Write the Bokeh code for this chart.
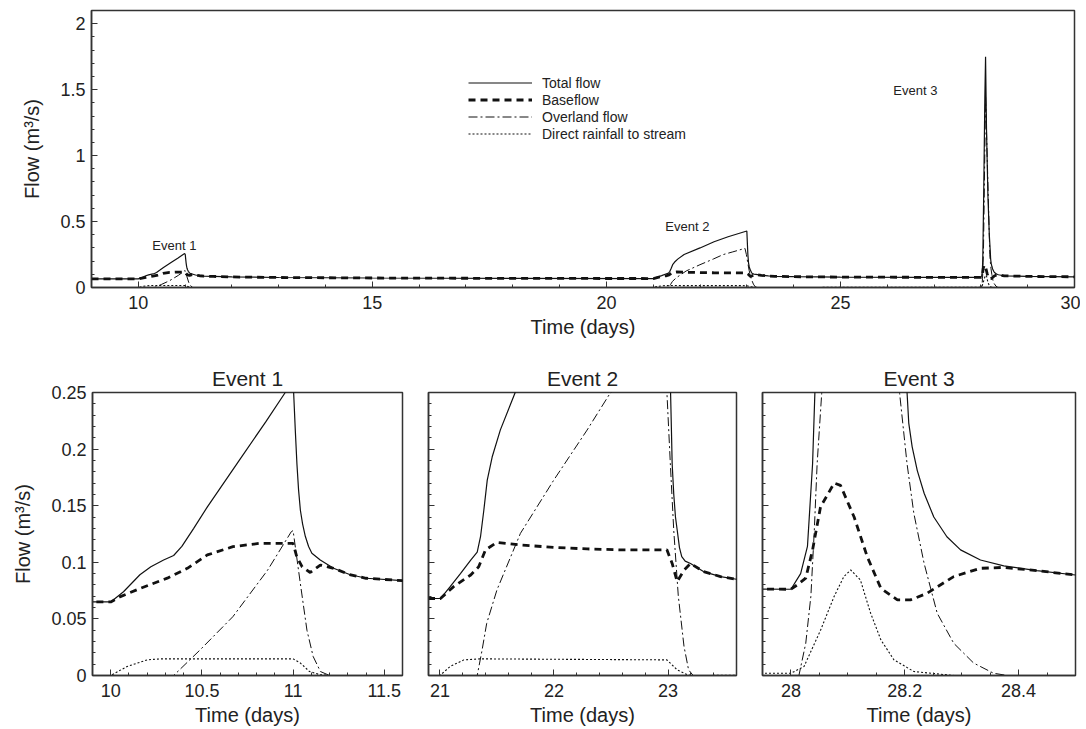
from bokeh.plotting import figure
from bokeh.layouts import column, row
from bokeh.models import (SingleIntervalTicker, CustomJSTickFormatter, Legend,
                          LegendItem, Label)
from bokeh.embed import file_html
from bokeh.resources import INLINE

FONT = "Liberation Sans"
INK = "#111111"
FRAME = "#333333"

# ---------------- data (time in days, flow in m3/s) ----------------
total_t = [9.0, 10.0, 10.07, 10.16, 10.22, 10.29, 10.345, 10.39, 10.455, 10.53,
           10.70, 10.85, 10.957, 10.99, 11.003, 11.012, 11.021, 11.03, 11.04,
           11.052, 11.067, 11.085, 11.103, 11.149, 11.222, 11.31, 11.40, 11.6,
           12.0, 13.0, 15.0, 18.0,
           21.005, 21.09, 21.18, 21.27, 21.327, 21.356, 21.385, 21.415, 21.458,
           21.53, 21.66, 22.0, 22.3, 22.6, 23.0, 23.022, 23.03, 23.036, 23.05,
           23.065, 23.08, 23.1, 23.12, 23.15, 23.197, 23.31, 23.46, 23.6, 24.0,
           25.0, 27.0,
           28.0, 28.017, 28.029, 28.038, 28.042, 28.06, 28.085, 28.1, 28.12,
           28.15, 28.18, 28.204, 28.207, 28.213, 28.222, 28.234, 28.251, 28.274,
           28.298, 28.333, 28.374, 28.432, 28.5, 29.0, 30.0]
total_q = [0.065, 0.065, 0.074, 0.089, 0.096, 0.102, 0.106, 0.114, 0.130, 0.149,
           0.189, 0.224, 0.250, 0.257, 0.250, 0.217, 0.187, 0.164, 0.146,
           0.134, 0.123, 0.114, 0.108, 0.102, 0.0947, 0.0892, 0.0859, 0.0838,
           0.080, 0.076, 0.072, 0.069,
           0.068, 0.0785, 0.090, 0.102, 0.109, 0.1226, 0.146, 0.1726, 0.193,
           0.217, 0.250, 0.300, 0.347, 0.385, 0.428, 0.250, 0.215, 0.187, 0.160,
           0.140, 0.1285, 0.113, 0.105, 0.101, 0.099, 0.0918, 0.0874, 0.085, 0.082,
           0.079, 0.077,
           0.0762, 0.090, 0.114, 0.187, 0.249, 0.70, 1.45, 1.75, 1.20,
           0.70, 0.40, 0.250, 0.223, 0.202, 0.181, 0.161, 0.140, 0.1226,
           0.111, 0.102, 0.0968, 0.0926, 0.0888, 0.084, 0.081]

base_t = [9.0, 10.0, 10.053, 10.163, 10.31, 10.42, 10.53, 10.67, 10.82, 11.0,
          11.02, 11.05, 11.094, 11.149, 11.222, 11.31, 11.40, 11.6, 12.0, 13.0,
          15.0, 18.0, 21.005, 21.12, 21.27, 21.34, 21.40, 21.50, 21.706, 21.998,
          22.29, 22.58, 22.99, 23.036, 23.08, 23.14, 23.197, 23.31, 23.46, 23.6,
          24.0, 25.0, 27.0, 28.0, 28.011, 28.026, 28.038, 28.052, 28.076,
          28.087, 28.111, 28.134, 28.158, 28.187, 28.21, 28.239, 28.286, 28.333,
          28.374, 28.432, 28.5, 29.0, 30.0]
base_q = [0.065, 0.065, 0.0697, 0.077, 0.086, 0.0947, 0.1065, 0.1138, 0.1168, 0.1168,
          0.105, 0.096, 0.091, 0.0976, 0.0947, 0.0892, 0.0859, 0.0838, 0.080, 0.076,
          0.072, 0.069, 0.068, 0.0785, 0.0888, 0.096, 0.111, 0.1176, 0.1153, 0.1132,
          0.1118, 0.111, 0.111, 0.099, 0.083, 0.093, 0.099, 0.0918, 0.0874, 0.085,
          0.082, 0.079, 0.077, 0.0762, 0.080, 0.086, 0.111, 0.149, 0.170,
          0.168, 0.140, 0.105, 0.077, 0.0668, 0.0668, 0.0726, 0.0874, 0.0947,
          0.0955, 0.0926, 0.0888, 0.084, 0.081]

overland_t = [9.0, 10.345, 10.49, 10.67, 10.86, 10.99, 11.0, 11.04, 11.076, 11.11,
              11.15, 11.2, 21.327, 21.37, 21.41, 21.50, 21.706, 21.998, 22.29,
              22.49, 22.7, 22.96, 22.99, 23.02, 23.05, 23.09, 23.14, 23.18, 23.22,
              28.014, 28.026, 28.035, 28.041, 28.046, 28.054, 28.1, 28.191, 28.204,
              28.216, 28.234, 28.257, 28.286, 28.321, 28.356, 28.38, 30.0]
overland_q = [0.0, 0.0, 0.0226, 0.052, 0.093, 0.127, 0.128, 0.081, 0.040, 0.0168,
              0.0035, 0.0, 0.0, 0.0226, 0.046, 0.0756, 0.1256, 0.1726, 0.2168,
              0.249, 0.270, 0.297, 0.250, 0.187, 0.128, 0.070, 0.0256, 0.005, 0.0,
              0.0, 0.0285, 0.070, 0.128, 0.187, 0.249, 1.45, 0.249, 0.187,
              0.143, 0.099, 0.055, 0.0285, 0.011, 0.002, 0.0, 0.0]

rain_t = [9.0, 10.0, 10.09, 10.2, 10.27, 11.0, 11.04, 11.09, 11.15, 11.22,
          21.0, 21.09, 21.21, 21.36, 22.99, 23.08, 23.17, 23.22,
          28.0, 28.023, 28.052, 28.076, 28.093, 28.105, 28.122, 28.14, 28.158,
          28.181, 28.216, 28.286, 30.0]
rain_q = [0.0, 0.0, 0.008, 0.0138, 0.0147, 0.0147, 0.011, 0.0035, 0.0006, 0.0,
          0.0, 0.008, 0.0138, 0.0147, 0.0138, 0.005, 0.0006, 0.0,
          0.002, 0.008, 0.040, 0.070, 0.0874, 0.0932, 0.0844, 0.055, 0.0315,
          0.0138, 0.0035, 0.0, 0.0]

series_names = ["Total flow", "Baseflow", "Overland flow", "Direct rainfall to stream"]
event_names = ["Event 1", "Event 2", "Event 3"]
# annotation anchors on the overview plot (days, m3/s)
event_label_t = [10.77, 21.73, 26.6]
event_label_q = [0.316, 0.466, 1.49]

# ---------------- helpers ----------------
num_fmt = CustomJSTickFormatter(code="return String(Math.round(tick*1000)/1000);")
blank_fmt = CustomJSTickFormatter(code="return '';")


def style_axes(p, xint, xminor, yint, yminor, ylabels=True):
    p.xgrid.visible = False
    p.ygrid.visible = False
    p.outline_line_color = FRAME
    p.outline_line_width = 1.5
    p.background_fill_color = "white"
    p.border_fill_color = "white"
    p.xaxis.ticker = SingleIntervalTicker(interval=xint, num_minor_ticks=xminor)
    p.yaxis.ticker = SingleIntervalTicker(interval=yint, num_minor_ticks=yminor)
    p.xaxis.formatter = num_fmt
    p.yaxis.formatter = num_fmt if ylabels else blank_fmt
    for ax in (p.xaxis[0], p.yaxis[0]):
        ax.axis_line_color = FRAME
        ax.axis_line_width = 1.5
        ax.major_tick_in = 6
        ax.major_tick_out = 0
        ax.minor_tick_in = 3
        ax.minor_tick_out = 0
        ax.major_tick_line_color = FRAME
        ax.minor_tick_line_color = FRAME
        ax.major_label_text_font = FONT
        ax.major_label_text_font_size = "18px"
        ax.major_label_text_color = "#222222"
        ax.axis_label_text_font = FONT
        ax.axis_label_text_font_size = "20px"
        ax.axis_label_text_font_style = "normal"
        ax.axis_label_text_color = "#222222"
    p.xaxis.major_label_standoff = 8
    p.xaxis.axis_label_standoff = 4
    p.yaxis.major_label_standoff = 6 if ylabels else 0
    p.yaxis.axis_label_standoff = 14


def draw(p):
    r1 = p.line(total_t, total_q, line_color=INK, line_width=1.2)
    r2 = p.line(base_t, base_q, line_color=INK, line_width=2.8, line_dash="7 5")
    r3 = p.line(overland_t, overland_q, line_color=INK, line_width=1.0,
                line_dash="9 3 2 3")
    r4 = p.line(rain_t, rain_q, line_color=INK, line_width=1.1, line_dash="2 2")
    return [r1, r2, r3, r4]


# ---------------- overview ----------------
top = figure(width=1080, height=347, x_range=(9, 30), y_range=(0, 2.1),
             output_backend="svg", toolbar_location=None,
             min_border_left=91, min_border_right=6, min_border_top=10,
             min_border_bottom=60)
style_axes(top, 5, 5, 0.5, 5)
top.xaxis.axis_label = "Time (days)"
top.yaxis.axis_label = "Flow (m³/s)"
rs = draw(top)
legend = Legend(items=[LegendItem(label=n, renderers=[r]) for n, r in zip(series_names, rs)],
                location=(377, 145), glyph_width=64, glyph_height=17,
                label_height=17, spacing=0, padding=0, margin=0,
                label_standoff=10, label_text_font=FONT,
                label_text_font_size="14px", label_text_color="#222222",
                border_line_color=None, background_fill_alpha=0)
top.add_layout(legend)
for name, lt, lq in zip(event_names, event_label_t, event_label_q):
    top.add_layout(Label(x=lt, y=lq, text=name, text_align="center",
                         text_baseline="middle", text_font=FONT,
                         text_font_size="13px", text_color="#222222"))

# ---------------- event panels ----------------
panel_specs = [
    # (title, x_range, x interval, minor count, width, border left, border right, y labels)
    ("Event 1", (9.9, 11.6), 0.5, 5, 415, 92, 13, True),
    ("Event 2", (20.9, 23.6), 1.0, 5, 334, 13, 13, False),
    ("Event 3", (27.95, 28.5), 0.2, 4, 331, 13, 5, False),
]
panels = []
for title, xr, xint, xminor, w, bl, br, ylab in panel_specs:
    p = figure(width=w, height=382, x_range=xr, y_range=(0, 0.25),
               output_backend="svg", toolbar_location=None, title=title,
               min_border_left=bl, min_border_right=br, min_border_top=45,
               min_border_bottom=54)
    style_axes(p, xint, xminor, 0.05, 5, ylabels=ylab)
    p.title.align = "center"
    p.title.text_font = FONT
    p.title.text_font_size = "21px"
    p.title.text_font_style = "normal"
    p.title.text_color = "#222222"
    p.title.standoff = 6
    p.xaxis.axis_label = "Time (days)"
    if ylab:
        p.yaxis.axis_label = "Flow (m³/s)"
    draw(p)
    panels.append(p)

layout = column(top, row(*panels, spacing=0), spacing=0)
open("out.html", "w").write(file_html(layout, INLINE))
